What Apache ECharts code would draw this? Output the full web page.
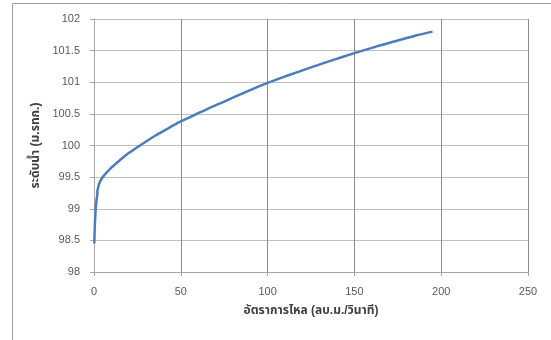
<!DOCTYPE html>
<html>
<head>
<meta charset="utf-8">
<style>html,body{margin:0;padding:0;background:#fff;}#c{width:551px;height:340px;}</style>
<script src="https://cdn.jsdelivr.net/npm/echarts@6/dist/echarts.min.js"></script>
</head>
<body>
<div id="c"></div>
<script>
var flowValues = [0.2, 0.5, 1.0, 1.5, 1.9, 2.0, 2.3, 3.0, 5.0, 10, 15, 20, 26.5, 35, 42, 50, 60, 67, 75, 87, 100, 112, 125, 137, 150, 162, 175, 185, 195];
var levelValues = [98.45, 98.75, 99.0, 99.15, 99.22, 99.3, 99.32, 99.4, 99.5, 99.65, 99.77, 99.88, 100.0, 100.15, 100.26, 100.38, 100.51, 100.6, 100.695, 100.84, 100.99, 101.11, 101.235, 101.345, 101.46, 101.56, 101.66, 101.735, 101.8];
var xTicks = [0, 50, 100, 150, 200, 250];
var yTicks = [98, 98.5, 99, 99.5, 100, 100.5, 101, 101.5, 102];
var xTitle = 'อัตราการไหล (ลบ.ม./วินาที)';
var yTitle = 'ระดับน้ำ (ม.รทก.)';

var points = flowValues.map(function (q, i) { return [q, levelValues[i]]; });
var font = '"Liberation Sans", "Noto Sans Thai", "Noto Sans", sans-serif';
var chart = echarts.init(document.getElementById('c'), null, {renderer: 'canvas'});
chart.setOption({
  animation: false,
  backgroundColor: '#fff',
  graphic: [{
    type: 'rect', silent: true, z: -1,
    shape: {x: 12.5, y: 3.5, width: 700, height: 500},
    style: {fill: 'none', stroke: '#a0a0a0', lineWidth: 1}
  }],
  grid: {left: 94, right: 23, top: 19, bottom: 68, containLabel: false},
  xAxis: {
    type: 'value', min: xTicks[0], max: xTicks[xTicks.length - 1], interval: 50,
    name: xTitle, nameLocation: 'middle', nameGap: 33,
    nameTextStyle: {fontFamily: font, fontSize: 12, fontWeight: 'bold', color: '#404040'},
    axisLine: {show: true, onZero: false, lineStyle: {color: '#a6a6a6', width: 1}},
    axisTick: {show: true, length: 4, lineStyle: {color: '#a6a6a6'}},
    axisLabel: {margin: 14, fontFamily: font, fontSize: 11, color: '#595959'},
    splitLine: {show: true, lineStyle: {color: '#8c8c8c', width: 1}}
  },
  yAxis: {
    type: 'value', min: yTicks[0], max: yTicks[yTicks.length - 1], interval: 0.5,
    name: yTitle, nameLocation: 'middle', nameGap: 47, nameRotate: 90,
    nameTextStyle: {fontFamily: font, fontSize: 12, fontWeight: 'bold', color: '#404040'},
    axisLine: {show: true, lineStyle: {color: '#a6a6a6', width: 1}},
    axisTick: {show: true, length: 4, lineStyle: {color: '#a6a6a6'}},
    axisLabel: {margin: 14, fontFamily: font, fontSize: 11, color: '#595959'},
    splitLine: {show: true, lineStyle: {color: '#bfbfbf', width: 1}}
  },
  series: [{
    type: 'line', data: points, showSymbol: false, smooth: 0.3,
    lineStyle: {color: '#4a7ebb', width: 2.5}
  }]
});
</script>
</body>
</html>
